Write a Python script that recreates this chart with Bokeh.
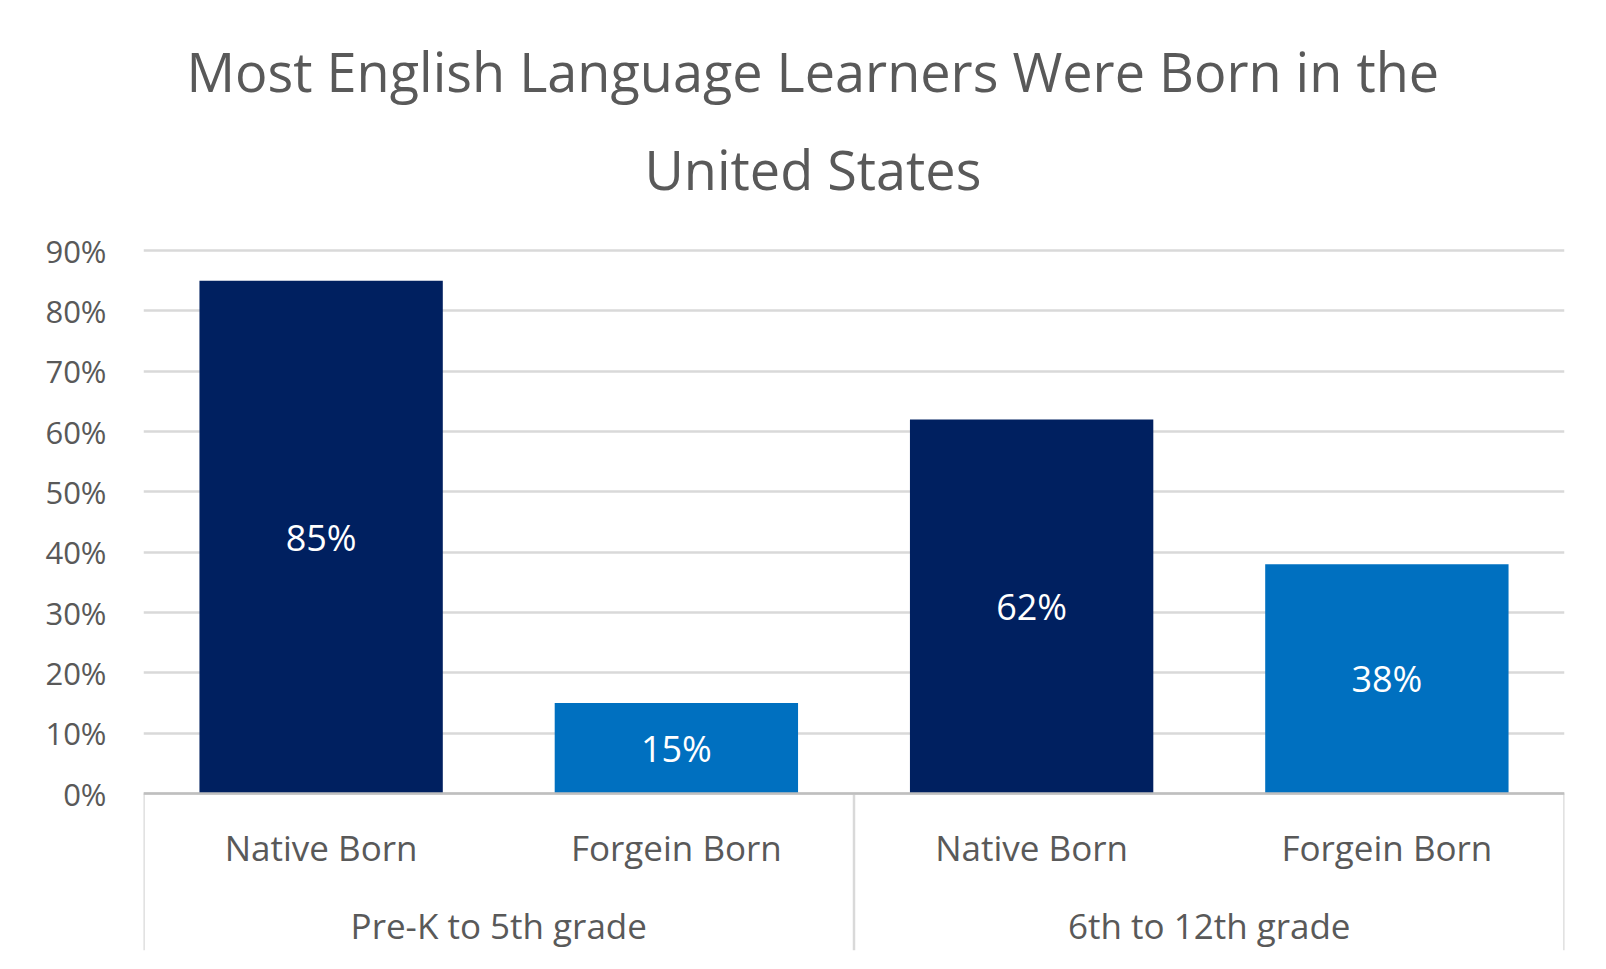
from bokeh.plotting import figure
from bokeh.models import (FactorRange, Range1d, FixedTicker, NumeralTickFormatter,
                          Title, Span, ColumnDataSource)
from bokeh.core.properties import value
from bokeh.embed import file_html
from bokeh.resources import INLINE

# ---- data ----
groups = ["Pre-K to 5th grade", "Pre-K to 5th grade", "6th to 12th grade", "6th to 12th grade"]
births = ["Native Born", "Forgein Born", "Native Born", "Forgein Born"]
shares = [0.85, 0.15, 0.62, 0.38]
y_ticks = [0.0, 0.1, 0.2, 0.3, 0.4, 0.5, 0.6, 0.7, 0.8, 0.9]
title_lines = ["Most English Language Learners Were Born in the", "United States"]

# ---- styles ----
NAVY = "#002060"
BLUE = "#0070C0"
TXT = "#595959"
GRID = "#d9d9d9"
FONT = "Open Sans"
color_map = {"Native Born": NAVY, "Forgein Born": BLUE}

factors = list(zip(groups, births))
src = ColumnDataSource(dict(
    x=factors,
    top=shares,
    mid=[v / 2 for v in shares],
    label=[f"{round(v * 100)}%" for v in shares],
    color=[color_map[b] for b in births],
    sub=births,
))

Y_BOTTOM = -0.26
p = figure(width=1606, height=969, output_backend="svg", toolbar_location=None,
           x_range=FactorRange(*factors, group_padding=0, factor_padding=0, range_padding=0),
           y_range=Range1d(Y_BOTTOM, 0.92),
           min_border_left=143, min_border_right=42, min_border_top=238,
           min_border_bottom=19)
p.title = None
p.outline_line_color = None
p.background_fill_color = "white"
p.border_fill_color = "white"

# bars
p.vbar(x="x", top="top", width=0.685, source=src, fill_color="color", line_color=None)

# value labels
p.text(x="x", y="mid", text="label", source=src, text_align="center",
       text_baseline="middle", text_color="white", text_font=value(FONT),
       text_font_size="36px")

# category labels (inside frame, below zero)
p.text(x="x", y=-0.0895, text="sub", source=src, text_align="center",
       text_baseline="middle", text_color=TXT, text_font=value(FONT),
       text_font_size="35px")

# group labels and separators
uniq_groups = list(dict.fromkeys(groups))
g_src = ColumnDataSource(dict(x=uniq_groups, label=uniq_groups))
p.text(x="x", y=-0.219, text="label", source=g_src, text_align="center",
       text_baseline="middle", text_color=TXT, text_font=value(FONT),
       text_font_size="35px")

bounds = []
for g in uniq_groups:
    subs = [b for gg, b in factors if gg == g]
    bounds.append((g, subs[0], -0.5))
bounds.append((uniq_groups[-1], [b for gg, b in factors if gg == uniq_groups[-1]][-1], 0.5))
p.segment(x0=bounds, x1=bounds, y0=[0] * len(bounds), y1=[Y_BOTTOM] * len(bounds),
          line_color=GRID, line_width=2.5)

# axes / grid
p.xaxis.visible = False
p.xgrid.visible = False
p.yaxis.ticker = FixedTicker(ticks=y_ticks)
p.ygrid.ticker = FixedTicker(ticks=y_ticks)
p.ygrid.grid_line_color = GRID
p.ygrid.grid_line_width = 2.5
p.yaxis.formatter = NumeralTickFormatter(format="0%")
p.yaxis.axis_line_color = None
p.yaxis.major_tick_line_color = None
p.yaxis.minor_tick_line_color = None
p.yaxis.major_label_standoff = 31
p.yaxis.major_label_text_font = FONT
p.yaxis.major_label_text_font_size = "31px"
p.yaxis.major_label_text_color = TXT

p.add_layout(Span(location=0, dimension="width", line_color="#bfbfbf", line_width=2.5))

# title: two lines, the one nearest the plot is added first
for line, off, so in [(title_lines[1], 501, 65), (title_lines[0], 43, -20)]:
    p.add_layout(Title(text=line, align="left", offset=off, standoff=so,
                       text_font=FONT, text_font_size="54px", text_font_style="normal",
                       text_color=TXT), "above")

open("out.html", "w").write(file_html(p, INLINE))
